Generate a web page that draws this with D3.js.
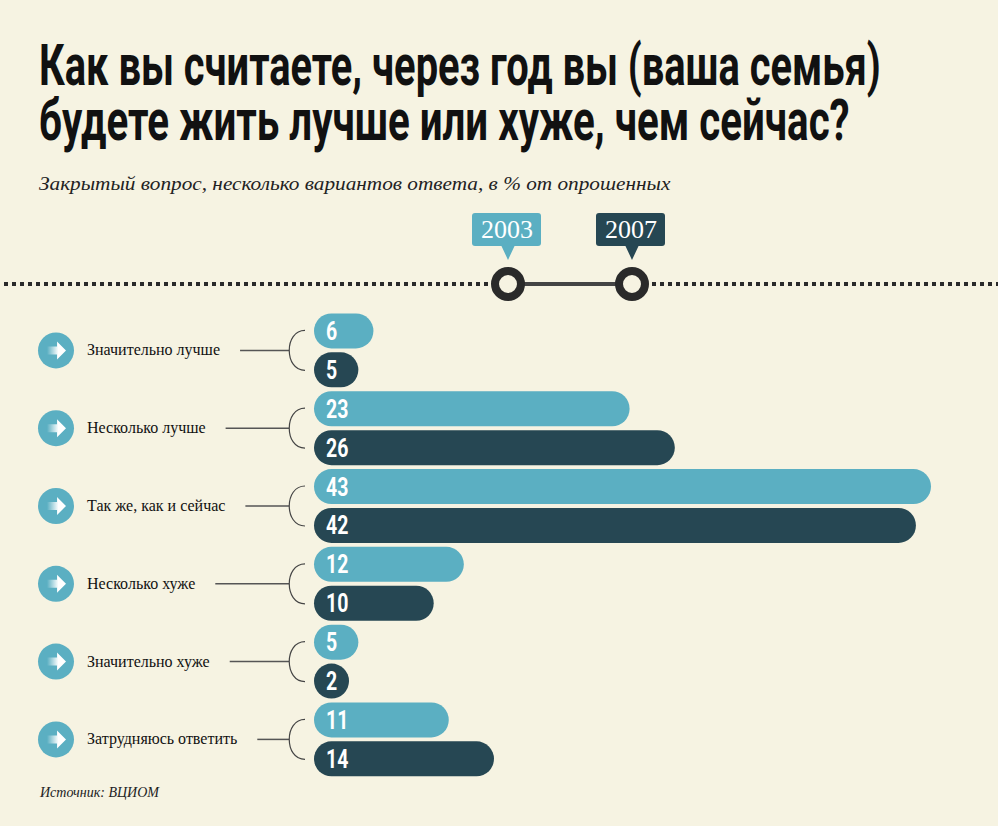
<!DOCTYPE html>
<html>
<head>
<meta charset="utf-8">
<script src="https://cdn.jsdelivr.net/npm/d3@7"></script>
<style>
  body { margin: 0; background: #f6f3e2; }
  svg { display: block; }
</style>
</head>
<body>
<div id="chart"></div>
<script>
// Data
const categories = [
  "Значительно лучше",
  "Несколько лучше",
  "Так же, как и сейчас",
  "Несколько хуже",
  "Значительно хуже",
  "Затрудняюсь ответить"
];
const values2003 = [6, 23, 43, 12, 5, 11];
const values2007 = [5, 26, 42, 10, 2, 14];
const years = ["2003", "2007"];

const titleLines = [
  "Как вы считаете, через год вы (ваша семья)",
  "будете жить лучше или хуже, чем сейчас?"
];
const subtitle = "Закрытый вопрос, несколько вариантов ответа, в % от опрошенных";
const source = "Источник: ВЦИОМ";

const W = 998, H = 826;
const light = "#5bafc2", dark = "#264753", bg = "#f6f3e2";

const svg = d3.select("#chart").append("svg")
  .attr("width", W).attr("height", H);

svg.append("rect").attr("width", W).attr("height", H).attr("fill", bg);

// squeeze a text horizontally so it spans the wanted width
function fitWidth(sel, x, yPos, width) {
  const natural = sel.node().getComputedTextLength();
  sel.attr("transform", `translate(${x},${yPos}) scale(${width / natural},1)`);
}

// Title (condensed look)
const titleWidths = [842, 811];
titleLines.forEach((t, i) => {
  const tt = svg.append("text")
    .attr("font-family", "Roboto, 'DejaVu Sans', sans-serif")
    .attr("font-weight", 700)
    .attr("font-size", 57)
    .attr("fill", "#111")
    .text(t);
  fitWidth(tt, 39, 85 + i * 55, titleWidths[i]);
});

const st = svg.append("text")
  .attr("font-family", "'Liberation Serif', 'DejaVu Serif', serif")
  .attr("font-style", "italic")
  .attr("font-size", 18)
  .attr("fill", "#222")
  .text(subtitle);
fitWidth(st, 39, 190, 632);

// Legend: dotted line + timeline
const legendY = 284;
svg.append("line")
  .attr("x1", 4).attr("x2", W).attr("y1", legendY).attr("y2", legendY)
  .attr("stroke", "#2a2a2a").attr("stroke-width", 4)
  .attr("stroke-dasharray", "4,4");

const lx = d3.scalePoint().domain(years).range([508, 632]);
svg.append("rect")
  .attr("x", lx(years[0]) - 6).attr("y", legendY - 14)
  .attr("width", lx(years[1]) - lx(years[0]) + 12).attr("height", 28)
  .attr("fill", bg);
svg.append("line")
  .attr("x1", lx(years[0])).attr("x2", lx(years[1]))
  .attr("y1", legendY).attr("y2", legendY)
  .attr("stroke", "#444").attr("stroke-width", 4);

years.forEach((yr, i) => {
  const cx = lx(yr);
  const col = i === 0 ? light : dark;
  svg.append("circle")
    .attr("cx", cx).attr("cy", legendY).attr("r", 13)
    .attr("fill", bg).attr("stroke", "#2a2a2a").attr("stroke-width", 8);
  const g = svg.append("g");
  g.append("rect")
    .attr("x", cx - 36).attr("y", 213)
    .attr("width", 69).attr("height", 33).attr("rx", 3)
    .attr("fill", col);
  g.append("path")
    .attr("d", `M${cx - 7},245 L${cx},260 L${cx + 7},245 Z`)
    .attr("fill", col);
  g.append("text")
    .attr("x", cx - 1).attr("y", 238)
    .attr("text-anchor", "middle")
    .attr("font-family", "'Liberation Serif', 'DejaVu Serif', serif")
    .attr("font-size", 26)
    .attr("fill", "#fff")
    .text(yr);
});

// Bars
const rows = [];
categories.forEach((c, i) => {
  rows.push({ cat: c, year: years[0], value: values2003[i], idx: i });
  rows.push({ cat: c, year: years[1], value: values2007[i], idx: i });
});

const y = d3.scaleBand()
  .domain(d3.range(rows.length))
  .range([311.5, 778.3])
  .paddingInner(0.1)
  .paddingOuter(0.05);

const barX0 = 314;
const x = d3.scaleLinear().domain([0, 43]).range([283, 931]);
const bh = y.bandwidth();

const bars = svg.append("g");
rows.forEach((d, i) => {
  const w = Math.max(bh, x(d.value) - barX0);
  bars.append("rect")
    .attr("x", barX0).attr("y", y(i))
    .attr("width", w).attr("height", bh)
    .attr("rx", bh / 2)
    .attr("fill", d.year === years[0] ? light : dark);
  bars.append("text")
    .attr("transform", `translate(${barX0 + 12},${y(i) + bh / 2 + 9}) scale(0.75,1)`)
    .attr("font-family", "Roboto, 'DejaVu Sans', sans-serif")
    .attr("font-weight", 700)
    .attr("font-size", 26)
    .attr("fill", "#fff")
    .text(d.value);
});

// Arrow gradient for icons
const defs = svg.append("defs");
const grad = defs.append("linearGradient").attr("id", "arrowGrad");
grad.append("stop").attr("offset", "0%").attr("stop-color", "#fff").attr("stop-opacity", 0);
grad.append("stop").attr("offset", "60%").attr("stop-color", "#fff").attr("stop-opacity", 1);

// Category labels, icons, connectors
const labels = svg.append("g");
categories.forEach((c, i) => {
  const cy = (y(i * 2) + y(i * 2 + 1) + bh) / 2;

  labels.append("circle")
    .attr("cx", 56).attr("cy", cy).attr("r", 18)
    .attr("fill", light);
  labels.append("path")
    .attr("d", `M${47},${cy - 4} L${57},${cy - 4} L${57},${cy - 9} L${66},${cy} L${57},${cy + 9} L${57},${cy + 4} L${47},${cy + 4} Z`)
    .attr("fill", "url(#arrowGrad)");

  const t = labels.append("text")
    .attr("x", 87).attr("y", cy + 5)
    .attr("font-family", "'Liberation Serif', 'DejaVu Serif', serif")
    .attr("font-size", 16)
    .attr("fill", "#111")
    .text(c);
  const tw = t.node().getComputedTextLength();

  labels.append("line")
    .attr("x1", 87 + tw + 20).attr("x2", 289)
    .attr("y1", cy).attr("y2", cy)
    .attr("stroke", "#555").attr("stroke-width", 1.5);

  labels.append("path")
    .attr("d", `M305,${cy - 20} C284,${cy - 20} 284,${cy + 20} 305,${cy + 20}`)
    .attr("fill", "none")
    .attr("stroke", "#444").attr("stroke-width", 1.2);
});

svg.append("text")
  .attr("x", 40).attr("y", 797)
  .attr("font-family", "'Liberation Serif', 'DejaVu Serif', serif")
  .attr("font-style", "italic")
  .attr("font-size", 14)
  .attr("fill", "#222")
  .text(source);
</script>
</body>
</html>
